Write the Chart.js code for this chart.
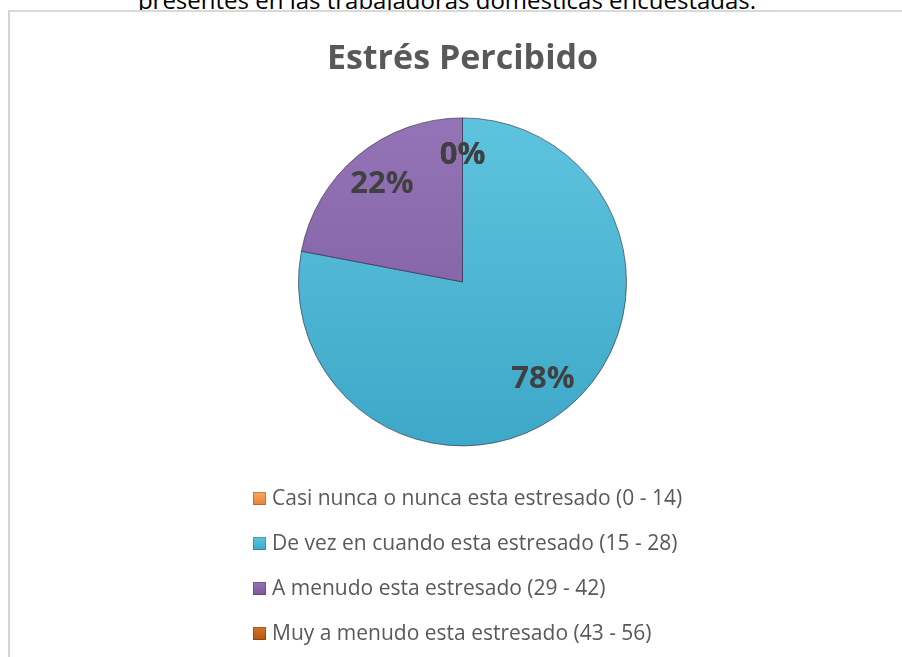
<!DOCTYPE html>
<html>
<head>
<meta charset="utf-8">
<script src="https://cdn.jsdelivr.net/npm/chart.js@4.4.0/dist/chart.umd.min.js"></script>
<style>
	html, body { margin: 0; padding: 0; background: #fff; }
	body { width: 902px; height: 657px; position: relative; overflow: hidden; font-family: "Open Sans", sans-serif; }
	#caption { position: absolute; left: 0; width: 894px; top: -17px; text-align: center; font-size: 24px; color: #000; white-space: nowrap; }
	#frame { position: absolute; left: 8px; top: 10px; width: 900px; height: 660px; border-left: 2px solid #d4d4d4; border-top: 2px solid #d9d9d9; background: #fff; }
	#wrap { position: absolute; left: 0; top: 0; width: 902px; height: 657px; }
</style>
</head>
<body>
<div id="caption">presentes en las trabajadoras domésticas encuestadas.</div>
<div id="frame"></div>
<div id="wrap"><canvas id="estresChart"></canvas></div>
<script>
const labels = [
	'Casi nunca o nunca esta estresado (0 - 14)',
	'De vez en cuando esta estresado (15 - 28)',
	'A menudo esta estresado (29 - 42)',
	'Muy a menudo esta estresado (43 - 56)'
];
const values = [0, 78, 22, 0];
const percentLabels = ['0%', '78%', '22%', '0%'];
const colorsTop = ['#f8a660', '#5ec3dd', '#9474b6', '#d5732a'];
const colorsBottom = ['#e8843a', '#3ea8c9', '#7a5a9c', '#b3560f'];

function sliceFill(context) {
	const chart = context.chart;
	const area = chart.chartArea;
	if (!area) return colorsTop[context.dataIndex];
	const g = chart.ctx.createLinearGradient(0, area.top, 0, area.bottom);
	g.addColorStop(0, colorsTop[context.dataIndex]);
	g.addColorStop(1, colorsBottom[context.dataIndex]);
	return g;
}

// etiquetas de porcentaje dentro de cada sector
const pctLabels = {
	id: 'pctLabels',
	afterDatasetsDraw(chart) {
		const ctx = chart.ctx;
		const meta = chart.getDatasetMeta(0);
		ctx.save();
		ctx.font = 'bold 31px "Open Sans"';
		ctx.fillStyle = '#404040';
		ctx.textAlign = 'center';
		ctx.textBaseline = 'middle';
		meta.data.forEach(function(arc, i) {
			const mid = (arc.startAngle + arc.endAngle) / 2;
			const r = arc.outerRadius * 0.77;
			ctx.fillText(percentLabels[i], arc.x + Math.cos(mid) * r, arc.y + Math.sin(mid) * r);
		});
		ctx.restore();
	}
};

// leyenda vertical debajo del gráfico
const listLegend = {
	id: 'listLegend',
	afterDraw(chart) {
		const ctx = chart.ctx;
		const area = chart.chartArea;
		const x0 = 253;
		const y0 = area.bottom + 52;
		const step = 45;
		ctx.save();
		ctx.font = '21px "Open Sans"';
		ctx.textBaseline = 'middle';
		labels.forEach(function(label, i) {
			const y = y0 + i * step;
			const g = ctx.createLinearGradient(0, y - 6, 0, y + 7);
			g.addColorStop(0, colorsTop[i]);
			g.addColorStop(1, colorsBottom[i]);
			ctx.fillStyle = g;
			ctx.fillRect(x0, y - 6, 13, 13);
			ctx.strokeStyle = 'rgba(0,0,0,0.2)';
			ctx.lineWidth = 1;
			ctx.strokeRect(x0 + 0.5, y - 5.5, 12, 12);
			ctx.fillStyle = '#595959';
			ctx.fillText(label, x0 + 19, y + 1);
		});
		ctx.restore();
	}
};

const ctx = document.getElementById('estresChart').getContext('2d');
const chart = new Chart(ctx, {
	type: 'pie',
	data: {
		labels: labels,
		datasets: [
			{
				data: values,
				backgroundColor: sliceFill,
				borderColor: 'rgba(40,40,60,0.6)',
				borderWidth: 1
			}
		]
	},
	options: {
		responsive: true,
		maintainAspectRatio: false,
		animation: false,
		radius: 164,
		layout: {
			padding: { top: 0, bottom: 211, left: 23, right: 0 }
		},
		plugins: {
			legend: { display: false },
			tooltip: { enabled: false },
			title: {
				display: true,
				text: 'Estrés Percibido',
				color: '#595959',
				font: { family: 'Open Sans', size: 34, weight: 'bold', lineHeight: 1.2 },
				padding: { top: 39, bottom: 38 }
			}
		}
	},
	plugins: [pctLabels, listLegend]
});
</script>
</body>
</html>
